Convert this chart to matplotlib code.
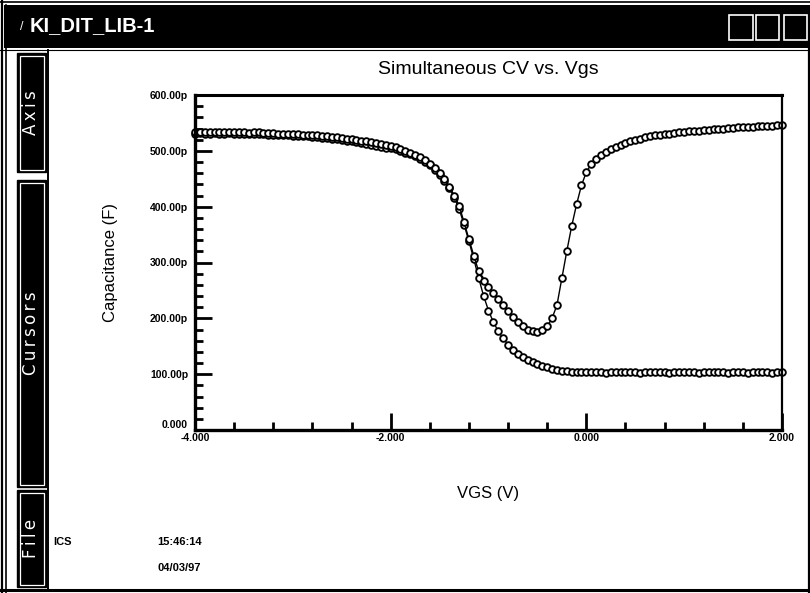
import matplotlib
matplotlib.use('Agg')
import matplotlib.pyplot as plt
from matplotlib.patches import Rectangle
from matplotlib.lines import Line2D
from matplotlib.ticker import FixedLocator, FixedFormatter, MultipleLocator

# ---------------- data ----------------
vgs = [-4.00, -3.95, -3.90, -3.85, -3.80, -3.75, -3.70, -3.65, -3.60, -3.55,
       -3.50, -3.45, -3.40, -3.35, -3.30, -3.25, -3.20, -3.15, -3.10, -3.05,
       -3.00, -2.95, -2.90, -2.85, -2.80, -2.75, -2.70, -2.65, -2.60, -2.55,
       -2.50, -2.45, -2.40, -2.35, -2.30, -2.25, -2.20, -2.15, -2.10, -2.05,
       -2.00, -1.95, -1.90, -1.85, -1.80, -1.75, -1.70, -1.65, -1.60, -1.55,
       -1.50, -1.45, -1.40, -1.35, -1.30, -1.25, -1.20, -1.15, -1.10, -1.05,
       -1.00, -0.95, -0.90, -0.85, -0.80, -0.75, -0.70, -0.65, -0.60, -0.55,
       -0.50, -0.45, -0.40, -0.35, -0.30, -0.25, -0.20, -0.15, -0.10, -0.05,
       0.00, 0.05, 0.10, 0.15, 0.20, 0.25, 0.30, 0.35, 0.40, 0.45,
       0.50, 0.55, 0.60, 0.65, 0.70, 0.75, 0.80, 0.85, 0.90, 0.95,
       1.00, 1.05, 1.10, 1.15, 1.20, 1.25, 1.30, 1.35, 1.40, 1.45,
       1.50, 1.55, 1.60, 1.65, 1.70, 1.75, 1.80, 1.85, 1.90, 1.95,
       2.00]

# quasi-static capacitance (pF)
c_qs = [533, 534, 533, 534, 533, 533, 534, 533, 533, 534,
        533, 532, 533, 533, 532, 532, 532, 531, 531, 531,
        530, 530, 529, 529, 528, 528, 527, 526, 525, 524,
        523, 522, 521, 520, 518, 517, 515, 514, 512, 510,
        508, 506, 503, 500, 497, 493, 489, 483, 477, 469,
        460, 449, 436, 420, 402, 372, 342, 312, 284, 267,
        256, 245, 234, 223, 213, 203, 194, 186, 180, 177,
        176, 179, 186, 200, 224, 272, 320, 365, 404, 438,
        462, 476, 485, 492, 498, 503, 507, 511, 514, 517,
        520, 522, 525, 526, 528, 529, 530, 531, 532, 533,
        534, 535, 536, 536, 537, 538, 539, 539, 540, 541,
        541, 542, 542, 543, 543, 544, 544, 545, 545, 546,
        546]

# high-frequency capacitance (pF)
c_hf = [531, 532, 531, 531, 532, 531, 531, 532, 531, 531,
        531, 530, 530, 531, 530, 529, 529, 529, 528, 528,
        527, 527, 526, 526, 525, 524, 523, 523, 522, 521,
        519, 518, 517, 515, 514, 512, 510, 509, 507, 505,
        505, 503, 500, 497, 494, 490, 486, 480, 474, 466,
        457, 446, 433, 416, 396, 368, 338, 306, 272, 240,
        214, 193, 177, 164, 153, 144, 137, 130, 125, 121,
        118, 115, 113, 110, 108, 106, 105, 104, 104, 103,
        103, 104, 103, 103, 102, 103, 103, 104, 103, 103,
        103, 102, 103, 103, 104, 103, 103, 102, 103, 103,
        104, 103, 103, 102, 103, 103, 103, 104, 103, 102,
        103, 103, 103, 102, 103, 104, 103, 103, 102, 103,
        103]

x_ticks = [-4, -2, 0, 2]
x_tick_labels = ['-4.000', '-2.000', '0.000', '2.000']
y_ticks = [0, 100, 200, 300, 400, 500, 600]
y_tick_labels = ['0.000', '100.00p', '200.00p', '300.00p', '400.00p', '500.00p', '600.00p']

window_title = 'KI_DIT_LIB-1'
chart_title = 'Simultaneous CV vs. Vgs'
x_label = 'VGS (V)'
y_label = 'Capacitance (F)'
buttons = ['Axis', 'Cursors', 'File']
footer = ['ICS', '15:46:14', '04/03/97']

# ---------------- figure ----------------
W, H = 810, 593
SANS = ['Liberation Sans', 'DejaVu Sans']

fig = plt.figure(figsize=(W / 100, H / 100), dpi=100)
fig.patch.set_facecolor('white')


def fx(x):
    return x / W


def fy(y):
    return 1 - y / H


def rect(x0, y0, x1, y1, **kw):
    fig.add_artist(Rectangle((fx(x0), fy(y1)), fx(x1) - fx(x0), fy(y0) - fy(y1),
                             transform=fig.transFigure, **kw))


def hline(x0, x1, y, lw=1.0, color='black'):
    fig.add_artist(Line2D([fx(x0), fx(x1)], [fy(y), fy(y)], transform=fig.transFigure,
                          lw=lw, color=color))


def vline(x, y0, y1, lw=1.0, color='black'):
    fig.add_artist(Line2D([fx(x), fx(x)], [fy(y0), fy(y1)], transform=fig.transFigure,
                          lw=lw, color=color))


# window frame
hline(0, W, 1.5, lw=1.2)
rect(4, 5, W, 48, facecolor='black', edgecolor='none')
hline(0, W, 50, lw=0.8)
vline(1.5, 0, H, lw=1.6)
vline(6, 5, H, lw=1.2)
vline(808.5, 48, H, lw=1.6)
hline(0, W, 589.5, lw=2.2)
vline(48, 50, 589, lw=1.4)

# title bar text and buttons
fig.text(fx(22), fy(27), '/', color='white', fontsize=9, family=SANS, va='center', ha='center')
fig.text(fx(30), fy(26), window_title, color='white', fontsize=14.5, family=SANS,
         va='center', ha='left', fontweight='bold')
for (a, b) in [(729, 753), (756, 779), (784, 807)]:
    rect(a, 15, b, 40, facecolor='black', edgecolor='white', lw=1.2)

# side buttons (letter-spaced labels)
for label, (y0, y1) in zip(buttons, [(53, 172), (180, 487), (490, 587)]):
    rect(17, y0, 46, y1, facecolor='black', edgecolor='black', lw=1.0)
    rect(19.5, y0 + 2.5, 43.5, y1 - 2.5, facecolor='none', edgecolor='white', lw=0.9)
    fig.text(fx(31.5), fy((y0 + y1) / 2), '\u2009'.join(label), color='white', fontsize=12,
             family=['DejaVu Sans'], rotation=90, ha='center', va='center')

# footer text
fig.text(fx(53), fy(542), footer[0], fontsize=8, family=SANS, fontweight='bold', va='center')
fig.text(fx(157), fy(542), footer[1], fontsize=8, family=SANS, fontweight='bold', va='center')
fig.text(fx(157), fy(568), footer[2], fontsize=8, family=SANS, fontweight='bold', va='center')

# ---------------- axes ----------------
L, R, T, B = 195, 782, 95, 430
ax = fig.add_axes([fx(L), fy(B), fx(R) - fx(L), fy(T) - fy(B)])
ax.set_facecolor('white')

mk = dict(marker='o', markersize=4.8, markerfacecolor='white', markeredgecolor='black',
          markeredgewidth=1.35, color='black', lw=1.0)
ax.plot(vgs, c_hf, **mk, clip_on=False)
ax.plot(vgs, c_qs, **mk, clip_on=False)

ax.set_xlim(-4, 2)
ax.set_ylim(0, 600)

ax.xaxis.set_major_locator(FixedLocator(x_ticks))
ax.xaxis.set_major_formatter(FixedFormatter(x_tick_labels))
ax.xaxis.set_minor_locator(MultipleLocator(0.4))
ax.yaxis.set_major_locator(FixedLocator(y_ticks))
ax.yaxis.set_major_formatter(FixedFormatter(y_tick_labels))
ax.yaxis.set_minor_locator(MultipleLocator(20))

ax.tick_params(which='major', direction='in', length=12, width=2.0, color='black')
ax.tick_params(which='minor', direction='in', length=5.5, width=2.0, color='black')
ax.tick_params(axis='y', which='major', pad=5)
ax.tick_params(axis='x', which='major', pad=2)

for lab in ax.get_xticklabels() + ax.get_yticklabels():
    lab.set_family(SANS)
    lab.set_fontsize(7.5)
    lab.set_fontweight('bold')
ax.get_yticklabels()[0].set_va('bottom')

ax.spines['left'].set_linewidth(2.4)
ax.spines['bottom'].set_linewidth(2.4)
ax.spines['top'].set_linewidth(2.2)
ax.spines['right'].set_linewidth(1.6)

ax.set_xlabel(x_label, fontsize=12, family=SANS, labelpad=31)
ax.set_ylabel(y_label, fontsize=12, family=SANS, labelpad=23)
ax.set_title(chart_title, fontsize=14, family=SANS, pad=15)

fig.savefig('out.png', dpi=100, facecolor='white')
